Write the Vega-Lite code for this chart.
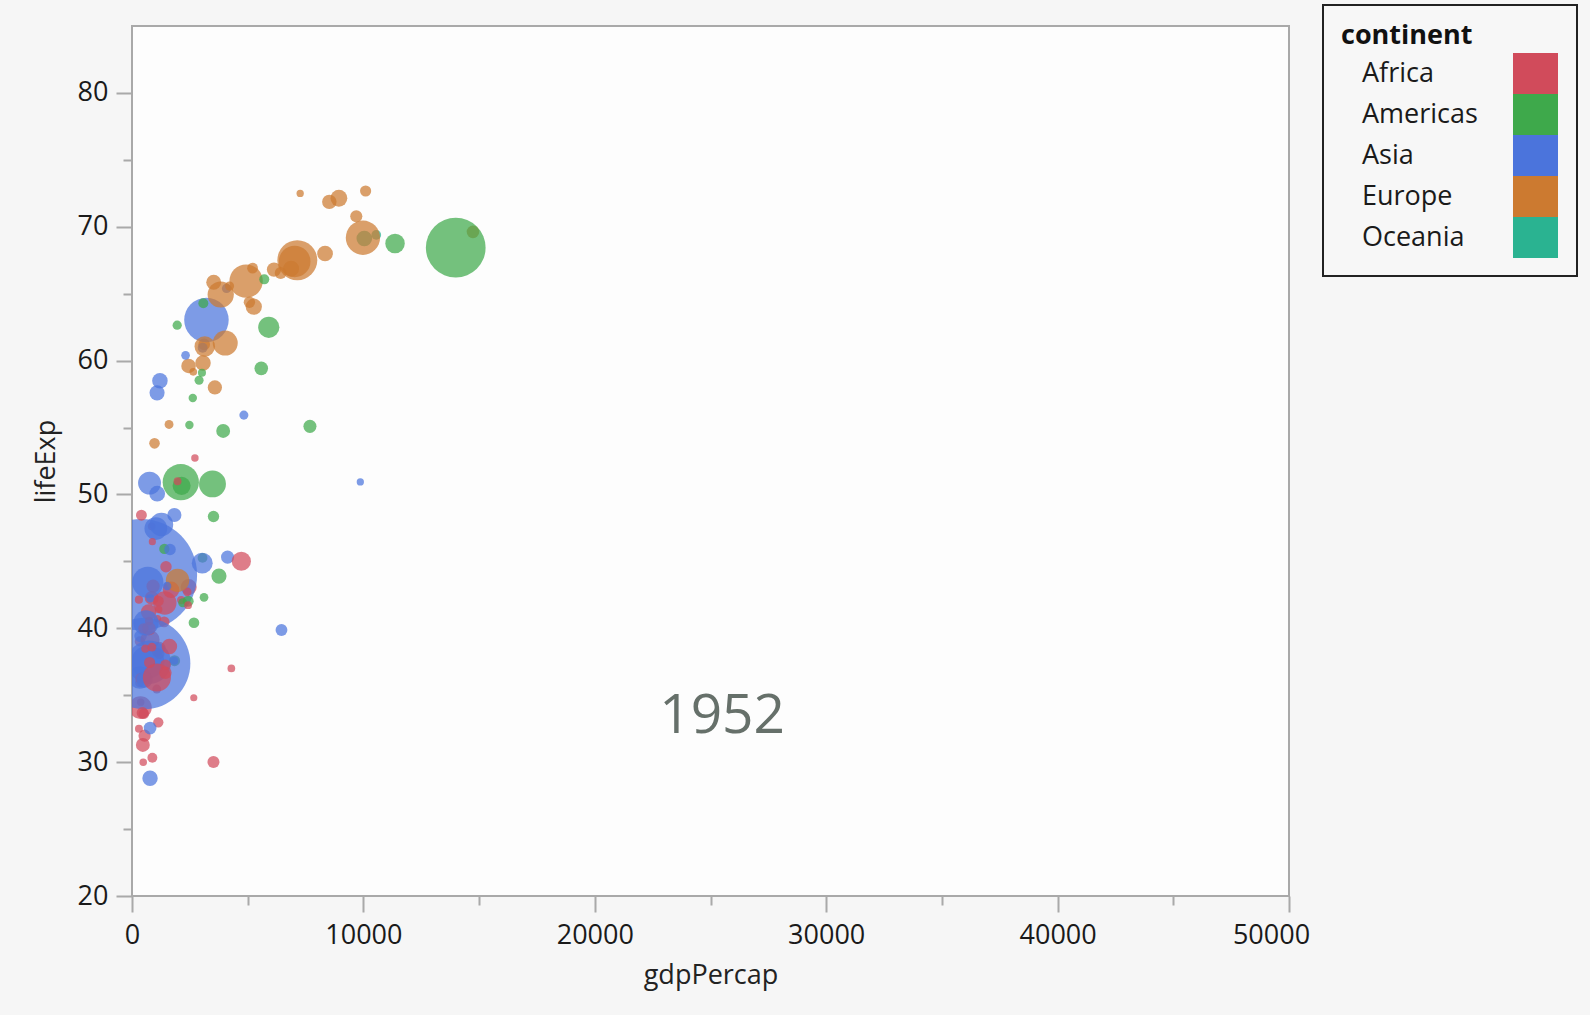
{
  "$schema": "https://vega.github.io/schema/vega-lite/v6.json",
  "autosize": {"type": "none"},
  "width": 1157,
  "height": 870,
  "padding": {"left": 132, "top": 26, "right": 301, "bottom": 119},
  "background": "#f6f6f6",
  "config": {
    "view": {"fill": "#fdfdfd", "stroke": "#a9a9a9", "strokeWidth": 2},
    "font": "Open Sans",
    "axis": {"labelFont": "Open Sans", "titleFont": "Open Sans", "grid": false, "domain": false},
    "legend": {"strokeWidth": 2}
  },
  "data": {
    "values": [
      {"country": "Afghanistan", "continent": "Asia", "lifeExp": 28.801, "pop": 8425333, "gdpPercap": 779.4453},
      {"country": "Albania", "continent": "Europe", "lifeExp": 55.23, "pop": 1282697, "gdpPercap": 1601.056},
      {"country": "Algeria", "continent": "Africa", "lifeExp": 43.077, "pop": 9279525, "gdpPercap": 2449.008},
      {"country": "Angola", "continent": "Africa", "lifeExp": 30.015, "pop": 4232095, "gdpPercap": 3520.61},
      {"country": "Argentina", "continent": "Americas", "lifeExp": 62.485, "pop": 17876956, "gdpPercap": 5911.315},
      {"country": "Australia", "continent": "Oceania", "lifeExp": 69.12, "pop": 8691212, "gdpPercap": 10039.6},
      {"country": "Austria", "continent": "Europe", "lifeExp": 66.8, "pop": 6927772, "gdpPercap": 6137.076},
      {"country": "Bahrain", "continent": "Asia", "lifeExp": 50.939, "pop": 120447, "gdpPercap": 9867.085},
      {"country": "Bangladesh", "continent": "Asia", "lifeExp": 37.484, "pop": 46886859, "gdpPercap": 684.2442},
      {"country": "Belgium", "continent": "Europe", "lifeExp": 68, "pop": 8730405, "gdpPercap": 8343.105},
      {"country": "Benin", "continent": "Africa", "lifeExp": 38.223, "pop": 1738315, "gdpPercap": 1062.752},
      {"country": "Bolivia", "continent": "Americas", "lifeExp": 40.414, "pop": 2883315, "gdpPercap": 2677.326},
      {"country": "Bosnia and Herzegovina", "continent": "Europe", "lifeExp": 53.82, "pop": 2791000, "gdpPercap": 973.5332},
      {"country": "Botswana", "continent": "Africa", "lifeExp": 47.622, "pop": 442308, "gdpPercap": 851.2411},
      {"country": "Brazil", "continent": "Americas", "lifeExp": 50.917, "pop": 56602560, "gdpPercap": 2108.944},
      {"country": "Bulgaria", "continent": "Europe", "lifeExp": 59.6, "pop": 7274900, "gdpPercap": 2444.287},
      {"country": "Burkina Faso", "continent": "Africa", "lifeExp": 31.975, "pop": 4469979, "gdpPercap": 543.2552},
      {"country": "Burundi", "continent": "Africa", "lifeExp": 39.031, "pop": 2445618, "gdpPercap": 339.2965},
      {"country": "Cambodia", "continent": "Asia", "lifeExp": 39.417, "pop": 4693836, "gdpPercap": 368.4693},
      {"country": "Cameroon", "continent": "Africa", "lifeExp": 38.523, "pop": 5009067, "gdpPercap": 1172.668},
      {"country": "Canada", "continent": "Americas", "lifeExp": 68.75, "pop": 14785584, "gdpPercap": 11367.16},
      {"country": "Central African Republic", "continent": "Africa", "lifeExp": 35.463, "pop": 1291695, "gdpPercap": 1071.311},
      {"country": "Chad", "continent": "Africa", "lifeExp": 38.092, "pop": 2682462, "gdpPercap": 1178.666},
      {"country": "Chile", "continent": "Americas", "lifeExp": 54.745, "pop": 6377619, "gdpPercap": 3939.979},
      {"country": "China", "continent": "Asia", "lifeExp": 44, "pop": 556263527, "gdpPercap": 400.4486},
      {"country": "Colombia", "continent": "Americas", "lifeExp": 50.643, "pop": 12350771, "gdpPercap": 2144.115},
      {"country": "Comoros", "continent": "Africa", "lifeExp": 40.715, "pop": 153936, "gdpPercap": 1102.991},
      {"country": "Congo, Dem. Rep.", "continent": "Africa", "lifeExp": 39.143, "pop": 14100005, "gdpPercap": 780.5423},
      {"country": "Congo, Rep.", "continent": "Africa", "lifeExp": 42.111, "pop": 854885, "gdpPercap": 2125.621},
      {"country": "Costa Rica", "continent": "Americas", "lifeExp": 57.206, "pop": 926317, "gdpPercap": 2627.009},
      {"country": "Cote d'Ivoire", "continent": "Africa", "lifeExp": 40.477, "pop": 2977019, "gdpPercap": 1388.595},
      {"country": "Croatia", "continent": "Europe", "lifeExp": 61.21, "pop": 3882229, "gdpPercap": 3119.237},
      {"country": "Cuba", "continent": "Americas", "lifeExp": 59.421, "pop": 6007797, "gdpPercap": 5586.539},
      {"country": "Czech Republic", "continent": "Europe", "lifeExp": 66.87, "pop": 9125183, "gdpPercap": 6876.14},
      {"country": "Denmark", "continent": "Europe", "lifeExp": 70.78, "pop": 4334000, "gdpPercap": 9692.385},
      {"country": "Djibouti", "continent": "Africa", "lifeExp": 34.812, "pop": 63149, "gdpPercap": 2669.529},
      {"country": "Dominican Republic", "continent": "Americas", "lifeExp": 45.928, "pop": 2491346, "gdpPercap": 1397.717},
      {"country": "Ecuador", "continent": "Americas", "lifeExp": 48.357, "pop": 3548753, "gdpPercap": 3522.111},
      {"country": "Egypt", "continent": "Africa", "lifeExp": 41.893, "pop": 22223309, "gdpPercap": 1418.822},
      {"country": "El Salvador", "continent": "Americas", "lifeExp": 45.262, "pop": 2042865, "gdpPercap": 3048.303},
      {"country": "Equatorial Guinea", "continent": "Africa", "lifeExp": 34.482, "pop": 216964, "gdpPercap": 375.6431},
      {"country": "Eritrea", "continent": "Africa", "lifeExp": 35.928, "pop": 1438760, "gdpPercap": 328.9406},
      {"country": "Ethiopia", "continent": "Africa", "lifeExp": 34.078, "pop": 20860941, "gdpPercap": 362.1463},
      {"country": "Finland", "continent": "Europe", "lifeExp": 66.55, "pop": 4090500, "gdpPercap": 6424.519},
      {"country": "France", "continent": "Europe", "lifeExp": 67.41, "pop": 42459667, "gdpPercap": 7029.809},
      {"country": "Gabon", "continent": "Africa", "lifeExp": 37.003, "pop": 420702, "gdpPercap": 4293.476},
      {"country": "Gambia", "continent": "Africa", "lifeExp": 30, "pop": 284320, "gdpPercap": 485.2307},
      {"country": "Germany", "continent": "Europe", "lifeExp": 67.5, "pop": 69145952, "gdpPercap": 7144.114},
      {"country": "Ghana", "continent": "Africa", "lifeExp": 43.149, "pop": 5581001, "gdpPercap": 911.2989},
      {"country": "Greece", "continent": "Europe", "lifeExp": 65.86, "pop": 7733250, "gdpPercap": 3530.69},
      {"country": "Guatemala", "continent": "Americas", "lifeExp": 42.023, "pop": 3146381, "gdpPercap": 2428.238},
      {"country": "Guinea", "continent": "Africa", "lifeExp": 33.609, "pop": 2664249, "gdpPercap": 510.1965},
      {"country": "Guinea-Bissau", "continent": "Africa", "lifeExp": 32.5, "pop": 580653, "gdpPercap": 299.8503},
      {"country": "Haiti", "continent": "Americas", "lifeExp": 37.579, "pop": 3201488, "gdpPercap": 1840.367},
      {"country": "Honduras", "continent": "Americas", "lifeExp": 41.912, "pop": 1517453, "gdpPercap": 2194.926},
      {"country": "Hong Kong, China", "continent": "Asia", "lifeExp": 60.96, "pop": 2125900, "gdpPercap": 3054.421},
      {"country": "Hungary", "continent": "Europe", "lifeExp": 64.03, "pop": 9504000, "gdpPercap": 5263.674},
      {"country": "Iceland", "continent": "Europe", "lifeExp": 72.49, "pop": 147962, "gdpPercap": 7267.688},
      {"country": "India", "continent": "Asia", "lifeExp": 37.373, "pop": 372000000, "gdpPercap": 546.5657},
      {"country": "Indonesia", "continent": "Asia", "lifeExp": 37.468, "pop": 82052000, "gdpPercap": 749.6817},
      {"country": "Iran", "continent": "Asia", "lifeExp": 44.869, "pop": 17272000, "gdpPercap": 3035.326},
      {"country": "Iraq", "continent": "Asia", "lifeExp": 45.32, "pop": 5441766, "gdpPercap": 4129.766},
      {"country": "Ireland", "continent": "Europe", "lifeExp": 66.91, "pop": 2952156, "gdpPercap": 5210.28},
      {"country": "Israel", "continent": "Asia", "lifeExp": 65.39, "pop": 1620914, "gdpPercap": 4086.522},
      {"country": "Italy", "continent": "Europe", "lifeExp": 65.94, "pop": 47666000, "gdpPercap": 4931.404},
      {"country": "Jamaica", "continent": "Americas", "lifeExp": 58.53, "pop": 1426095, "gdpPercap": 2898.531},
      {"country": "Japan", "continent": "Asia", "lifeExp": 63.03, "pop": 86459025, "gdpPercap": 3216.956},
      {"country": "Jordan", "continent": "Asia", "lifeExp": 43.158, "pop": 607914, "gdpPercap": 1546.908},
      {"country": "Kenya", "continent": "Africa", "lifeExp": 42.27, "pop": 6464046, "gdpPercap": 853.5409},
      {"country": "Korea, Dem. Rep.", "continent": "Asia", "lifeExp": 50.056, "pop": 8865488, "gdpPercap": 1088.278},
      {"country": "Korea, Rep.", "continent": "Asia", "lifeExp": 47.453, "pop": 20947571, "gdpPercap": 1030.592},
      {"country": "Kuwait", "continent": "Asia", "lifeExp": 55.565, "pop": 160000, "gdpPercap": 108382.35},
      {"country": "Lebanon", "continent": "Asia", "lifeExp": 55.928, "pop": 1439529, "gdpPercap": 4834.804},
      {"country": "Lesotho", "continent": "Africa", "lifeExp": 42.138, "pop": 748747, "gdpPercap": 298.8462},
      {"country": "Liberia", "continent": "Africa", "lifeExp": 38.48, "pop": 863308, "gdpPercap": 575.573},
      {"country": "Libya", "continent": "Africa", "lifeExp": 42.723, "pop": 1019729, "gdpPercap": 2387.548},
      {"country": "Madagascar", "continent": "Africa", "lifeExp": 36.681, "pop": 4762912, "gdpPercap": 1443.012},
      {"country": "Malawi", "continent": "Africa", "lifeExp": 36.256, "pop": 2917802, "gdpPercap": 369.1651},
      {"country": "Malaysia", "continent": "Asia", "lifeExp": 48.463, "pop": 6748378, "gdpPercap": 1831.133},
      {"country": "Mali", "continent": "Africa", "lifeExp": 33.685, "pop": 3838168, "gdpPercap": 452.337},
      {"country": "Mauritania", "continent": "Africa", "lifeExp": 40.543, "pop": 1022556, "gdpPercap": 743.1159},
      {"country": "Mauritius", "continent": "Africa", "lifeExp": 50.986, "pop": 516556, "gdpPercap": 1967.956},
      {"country": "Mexico", "continent": "Americas", "lifeExp": 50.789, "pop": 30144317, "gdpPercap": 3478.126},
      {"country": "Mongolia", "continent": "Asia", "lifeExp": 42.244, "pop": 800663, "gdpPercap": 786.5669},
      {"country": "Montenegro", "continent": "Europe", "lifeExp": 59.164, "pop": 413834, "gdpPercap": 2647.586},
      {"country": "Morocco", "continent": "Africa", "lifeExp": 42.873, "pop": 9939217, "gdpPercap": 1688.204},
      {"country": "Mozambique", "continent": "Africa", "lifeExp": 31.286, "pop": 6446316, "gdpPercap": 468.526},
      {"country": "Myanmar", "continent": "Asia", "lifeExp": 36.319, "pop": 20092996, "gdpPercap": 331},
      {"country": "Namibia", "continent": "Africa", "lifeExp": 41.725, "pop": 485831, "gdpPercap": 2423.78},
      {"country": "Nepal", "continent": "Asia", "lifeExp": 36.157, "pop": 9182536, "gdpPercap": 545.8657},
      {"country": "Netherlands", "continent": "Europe", "lifeExp": 72.13, "pop": 10381988, "gdpPercap": 8941.572},
      {"country": "New Zealand", "continent": "Oceania", "lifeExp": 69.39, "pop": 1994794, "gdpPercap": 10556.58},
      {"country": "Nicaragua", "continent": "Americas", "lifeExp": 42.314, "pop": 1165790, "gdpPercap": 3112.364},
      {"country": "Niger", "continent": "Africa", "lifeExp": 37.444, "pop": 3379468, "gdpPercap": 761.8794},
      {"country": "Nigeria", "continent": "Africa", "lifeExp": 36.324, "pop": 33119096, "gdpPercap": 1077.282},
      {"country": "Norway", "continent": "Europe", "lifeExp": 72.67, "pop": 3327728, "gdpPercap": 10095.42},
      {"country": "Oman", "continent": "Asia", "lifeExp": 37.578, "pop": 507833, "gdpPercap": 1828.23},
      {"country": "Pakistan", "continent": "Asia", "lifeExp": 43.436, "pop": 41346560, "gdpPercap": 684.5971},
      {"country": "Panama", "continent": "Americas", "lifeExp": 55.191, "pop": 940080, "gdpPercap": 2480.38},
      {"country": "Paraguay", "continent": "Americas", "lifeExp": 62.649, "pop": 1555876, "gdpPercap": 1952.309},
      {"country": "Peru", "continent": "Americas", "lifeExp": 43.902, "pop": 8025700, "gdpPercap": 3758.523},
      {"country": "Philippines", "continent": "Asia", "lifeExp": 47.752, "pop": 22438691, "gdpPercap": 1272.881},
      {"country": "Poland", "continent": "Europe", "lifeExp": 61.31, "pop": 25730551, "gdpPercap": 4029.33},
      {"country": "Portugal", "continent": "Europe", "lifeExp": 59.82, "pop": 8526050, "gdpPercap": 3068.32},
      {"country": "Puerto Rico", "continent": "Americas", "lifeExp": 64.28, "pop": 2227000, "gdpPercap": 3081.96},
      {"country": "Reunion", "continent": "Africa", "lifeExp": 52.724, "pop": 257700, "gdpPercap": 2718.885},
      {"country": "Romania", "continent": "Europe", "lifeExp": 61.05, "pop": 16630000, "gdpPercap": 3144.613},
      {"country": "Rwanda", "continent": "Africa", "lifeExp": 40, "pop": 2534927, "gdpPercap": 493.3239},
      {"country": "Sao Tome and Principe", "continent": "Africa", "lifeExp": 46.471, "pop": 60011, "gdpPercap": 879.5836},
      {"country": "Saudi Arabia", "continent": "Asia", "lifeExp": 39.875, "pop": 4005677, "gdpPercap": 6459.555},
      {"country": "Senegal", "continent": "Africa", "lifeExp": 37.278, "pop": 2755589, "gdpPercap": 1450.357},
      {"country": "Serbia", "continent": "Europe", "lifeExp": 57.996, "pop": 6860147, "gdpPercap": 3581.459},
      {"country": "Sierra Leone", "continent": "Africa", "lifeExp": 30.331, "pop": 2143249, "gdpPercap": 879.7877},
      {"country": "Singapore", "continent": "Asia", "lifeExp": 60.396, "pop": 1127000, "gdpPercap": 2315.138},
      {"country": "Slovak Republic", "continent": "Europe", "lifeExp": 64.36, "pop": 3558137, "gdpPercap": 5074.659},
      {"country": "Slovenia", "continent": "Europe", "lifeExp": 65.57, "pop": 1489518, "gdpPercap": 4215.042},
      {"country": "Somalia", "continent": "Africa", "lifeExp": 32.978, "pop": 2526994, "gdpPercap": 1135.75},
      {"country": "South Africa", "continent": "Africa", "lifeExp": 45.009, "pop": 14264935, "gdpPercap": 4725.296},
      {"country": "Spain", "continent": "Europe", "lifeExp": 64.94, "pop": 28549870, "gdpPercap": 3834.035},
      {"country": "Sri Lanka", "continent": "Asia", "lifeExp": 57.593, "pop": 7982342, "gdpPercap": 1083.532},
      {"country": "Sudan", "continent": "Africa", "lifeExp": 38.635, "pop": 8504667, "gdpPercap": 1615.991},
      {"country": "Swaziland", "continent": "Africa", "lifeExp": 41.407, "pop": 290243, "gdpPercap": 1148.377},
      {"country": "Sweden", "continent": "Europe", "lifeExp": 71.86, "pop": 7124673, "gdpPercap": 8527.845},
      {"country": "Switzerland", "continent": "Europe", "lifeExp": 69.62, "pop": 4815000, "gdpPercap": 14734.23},
      {"country": "Syria", "continent": "Asia", "lifeExp": 45.883, "pop": 3661549, "gdpPercap": 1643.485},
      {"country": "Taiwan", "continent": "Asia", "lifeExp": 58.5, "pop": 8550362, "gdpPercap": 1206.948},
      {"country": "Tanzania", "continent": "Africa", "lifeExp": 41.215, "pop": 8322925, "gdpPercap": 716.6501},
      {"country": "Thailand", "continent": "Asia", "lifeExp": 50.848, "pop": 21289402, "gdpPercap": 757.7974},
      {"country": "Togo", "continent": "Africa", "lifeExp": 38.596, "pop": 1219113, "gdpPercap": 859.8087},
      {"country": "Trinidad and Tobago", "continent": "Americas", "lifeExp": 59.1, "pop": 662850, "gdpPercap": 3023.272},
      {"country": "Tunisia", "continent": "Africa", "lifeExp": 44.6, "pop": 3647735, "gdpPercap": 1468.476},
      {"country": "Turkey", "continent": "Europe", "lifeExp": 43.585, "pop": 22235677, "gdpPercap": 1969.101},
      {"country": "Uganda", "continent": "Africa", "lifeExp": 39.978, "pop": 5824797, "gdpPercap": 734.7535},
      {"country": "United Kingdom", "continent": "Europe", "lifeExp": 69.18, "pop": 50430000, "gdpPercap": 9979.508},
      {"country": "United States", "continent": "Americas", "lifeExp": 68.44, "pop": 157553000, "gdpPercap": 13990.48},
      {"country": "Uruguay", "continent": "Americas", "lifeExp": 66.071, "pop": 2252965, "gdpPercap": 5716.767},
      {"country": "Venezuela", "continent": "Americas", "lifeExp": 55.088, "pop": 5439568, "gdpPercap": 7689.8},
      {"country": "Vietnam", "continent": "Asia", "lifeExp": 40.412, "pop": 26246839, "gdpPercap": 605.0665},
      {"country": "West Bank and Gaza", "continent": "Asia", "lifeExp": 43.16, "pop": 1030585, "gdpPercap": 1515.592},
      {"country": "Yemen, Rep.", "continent": "Asia", "lifeExp": 32.548, "pop": 4963829, "gdpPercap": 781.7176},
      {"country": "Zambia", "continent": "Africa", "lifeExp": 42.038, "pop": 2672000, "gdpPercap": 1147.389},
      {"country": "Zimbabwe", "continent": "Africa", "lifeExp": 48.451, "pop": 3080907, "gdpPercap": 406.8841}
    ]
  },
  "layer": [
    {
      "mark": {"type": "circle", "opacity": 0.72, "clip": true, "strokeWidth": 0},
      "encoding": {
        "x": {
          "field": "gdpPercap", "type": "quantitative",
          "scale": {"domain": [0, 50000], "nice": false, "zero": false},
          "axis": {
            "orient": "bottom", "values": [0, 10000, 20000, 30000, 40000, 50000], "format": "d",
            "tickSize": 16, "tickWidth": 2, "tickColor": "#a9a9a9",
            "labelFontSize": 27, "labelColor": "#1a1a1a", "labelPadding": 10, "labelFlush": false, "labelOverlap": false,
            "labelOffset": {"condition": {"test": "datum.value === 50000", "value": -18}, "value": 0},
            "title": "gdpPercap", "titleFontSize": 27, "titleFontWeight": "normal", "titleColor": "#222222", "titlePadding": 14
          }
        },
        "y": {
          "field": "lifeExp", "type": "quantitative",
          "scale": {"domain": [20, 85], "nice": false, "zero": false},
          "axis": {
            "orient": "left", "values": [20, 30, 40, 50, 60, 70, 80],
            "tickSize": 16, "tickWidth": 2, "tickColor": "#a9a9a9",
            "labelFontSize": 27, "labelColor": "#1a1a1a", "labelPadding": 8, "labelFlush": false, "labelOverlap": false,
            "title": "lifeExp", "titleFontSize": 27, "titleFontWeight": "normal", "titleColor": "#222222", "titlePadding": 17
          }
        },
        "size": {
          "field": "pop", "type": "quantitative",
          "scale": {"type": "linear", "domain": [0, 556263527], "range": [50, 12470]},
          "legend": null
        },
        "color": {
          "field": "continent", "type": "nominal",
          "scale": {
            "domain": ["Africa", "Americas", "Asia", "Europe", "Oceania"],
            "range": ["#d14b5b", "#3ea94b", "#4b74dc", "#cc7a30", "#2ab391"]
          },
          "legend": {
            "orient": "none", "legendX": 1191, "legendY": -21, "direction": "vertical",
            "title": "continent", "titleFont": "Open Sans", "titleFontSize": 27, "titleFontWeight": "bold",
            "titleColor": "#111111", "titlePadding": 3, "titleLimit": 400,
            "labelFont": "Open Sans", "labelFontSize": 27, "labelColor": "#1a1a1a", "labelOffset": -194, "labelBaseline": "middle",
            "symbolType": "M-1.0976,-1H1.0976V1H-1.0976Z", "symbolSize": 1681, "symbolOffset": 174,
            "symbolStrokeWidth": 0, "symbolOpacity": 1,
            "rowPadding": 0, "padding": 18, "strokeColor": "#222222", "fillColor": "#f7f7f7"
          }
        }
      }
    },
    {
      "data": {"values": [{"year": "1952"}]},
      "mark": {"type": "text", "font": "Open Sans", "fontSize": 55, "color": "#66706a", "align": "center", "baseline": "middle"},
      "encoding": {
        "x": {
          "datum": 25500, "type": "quantitative",
          "scale": {"domain": [0, 50000], "nice": false, "zero": false},
          "axis": {
            "orient": "bottom", "values": [5000, 15000, 25000, 35000, 45000],
            "tickSize": 9, "tickWidth": 2, "tickColor": "#a9a9a9", "labels": false, "title": null
          }
        },
        "y": {
          "datum": 33.43, "type": "quantitative",
          "scale": {"domain": [20, 85], "nice": false, "zero": false},
          "axis": {
            "orient": "left", "values": [25, 35, 45, 55, 65, 75],
            "tickSize": 9, "tickWidth": 2, "tickColor": "#a9a9a9", "labels": false, "title": null
          }
        },
        "text": {"field": "year", "type": "nominal"}
      }
    }
  ],
  "resolve": {"axis": {"x": "independent", "y": "independent"}}
}
